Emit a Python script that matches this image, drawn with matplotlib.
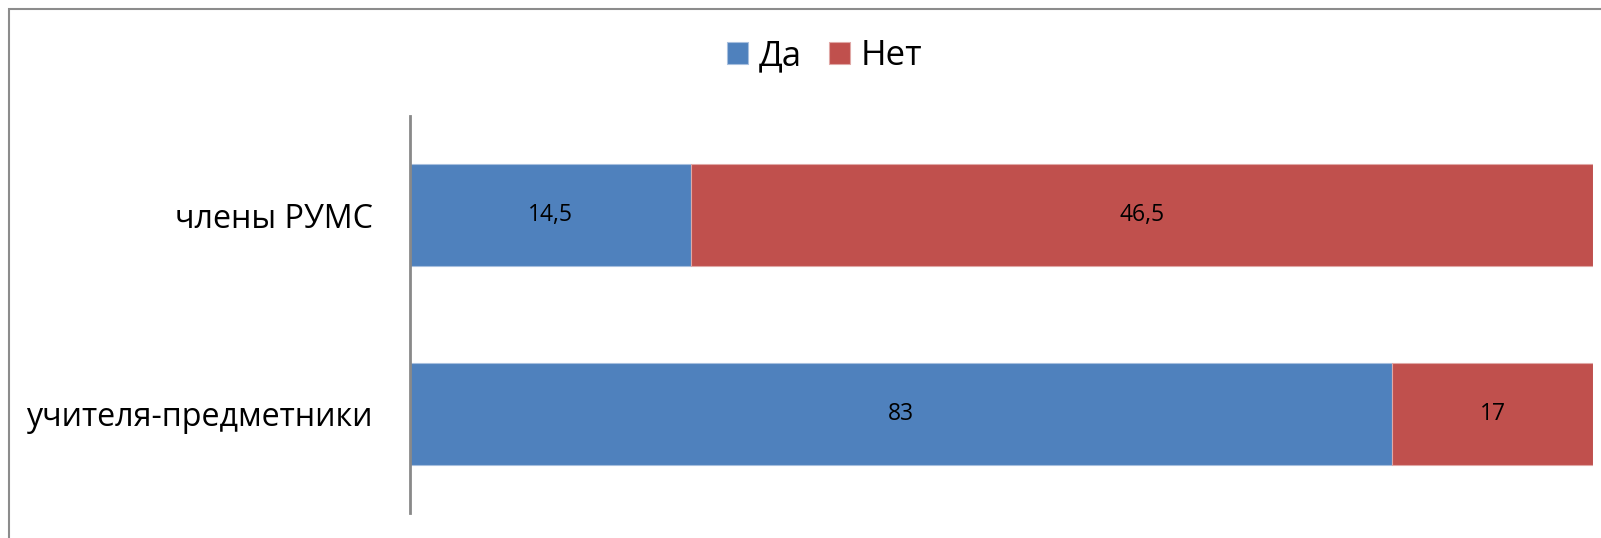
import numpy as np
import matplotlib.pyplot as plt
from matplotlib.patches import Rectangle

plt.rcParams['font.family'] = ['Open Sans', 'DejaVu Sans']

categories = ['учителя-предметники', 'члены РУМС']
da = [83, 14.5]
net = [17, 46.5]
da_labels = ['83', '14,5']
net_labels = ['17', '46,5']

da = np.array(da)
net = np.array(net)
total = da + net
da_pct = da / total * 100
net_pct = net / total * 100

fig = plt.figure(figsize=(16.01, 5.38), dpi=100)
ax = fig.add_axes([0.2561, 0.0465, 0.739, 0.7379])

y = np.arange(len(categories))
b1 = ax.barh(y, da_pct, height=0.513, color='#4F81BD', edgecolor='#A7BFDE', linewidth=0.8, label='Да')
b2 = ax.barh(y, net_pct, left=da_pct, height=0.513, color='#C0504D', edgecolor='#E0A8A6', linewidth=0.8, label='Нет')

for i in range(len(categories)):
    ax.text(da_pct[i] / 2, y[i], da_labels[i], ha='center', va='center', fontsize=16.5)
    ax.text(da_pct[i] + net_pct[i] / 2, y[i], net_labels[i], ha='center', va='center', fontsize=16.5)

ax.set_xlim(0, 100)
ax.set_ylim(-0.5, 1.5)
ax.set_yticks(y)
ax.set_yticklabels(categories, fontsize=23.2)
ax.tick_params(axis='y', length=0, pad=27)
ax.set_xticks([])
for s in ['top', 'right', 'bottom']:
    ax.spines[s].set_visible(False)
ax.spines['left'].set_color('#898989')
ax.spines['left'].set_linewidth(2)

fig.legend(handles=[b1, b2], loc='center', bbox_to_anchor=(0.515, 0.895), ncol=2, frameon=False,
           fontsize=25, handlelength=0.6, handleheight=0.6, handletextpad=0.3, columnspacing=0.8)

fig.patches.append(Rectangle((9 / 1601, -0.1), 1.2, 1 - 9 / 538 + 0.1, transform=fig.transFigure,
                             fill=False, edgecolor='#8C8C8C', linewidth=1.5))

fig.savefig('out.png', dpi=100)
